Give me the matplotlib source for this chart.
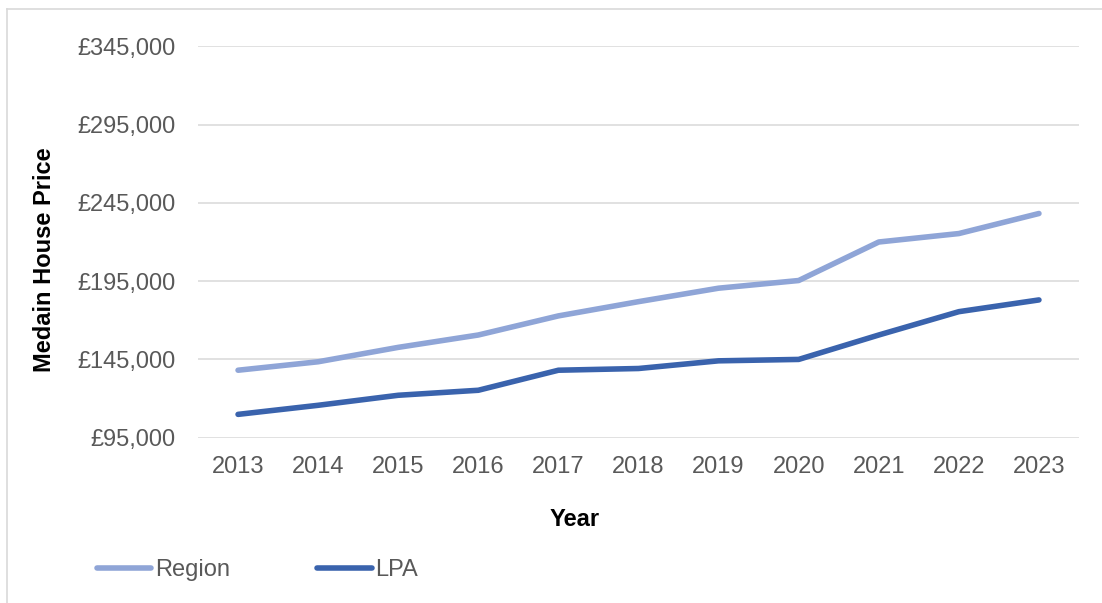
import matplotlib
matplotlib.use("Agg")
import matplotlib.pyplot as plt
from matplotlib.lines import Line2D
from matplotlib.ticker import FuncFormatter

years = ["2013", "2014", "2015", "2016", "2017", "2018", "2019", "2020", "2021", "2022", "2023"]
region = [138100, 143500, 152700, 160600, 172800, 181900, 190500, 195400, 220000, 225400, 238200]
lpa = [109900, 115700, 122100, 125300, 138100, 139200, 144100, 145000, 160600, 175500, 183000]
y_ticks = [95000, 145000, 195000, 245000, 295000, 345000]

plt.rcParams['font.family'] = ['Liberation Sans', 'DejaVu Sans']

W, H = 1102, 603
fig = plt.figure(figsize=(W / 100, H / 100), dpi=100)
ax = fig.add_axes([198 / W, 1 - 437.7 / H, (1079 - 198) / W, (437.7 - 46.3) / H])

x = list(range(len(years)))
c_region = "#8FA5D7"
c_lpa = "#3A63AD"
lw = 4.0
ax.plot(x, region, color=c_region, lw=lw, solid_capstyle='round', solid_joinstyle='round', label="Region", zorder=3)
ax.plot(x, lpa, color=c_lpa, lw=lw, solid_capstyle='round', solid_joinstyle='round', label="LPA", zorder=3)

ax.set_xlim(-0.5, len(years) - 0.5)
ax.set_ylim(y_ticks[0], y_ticks[-1])
ax.set_yticks(y_ticks)
ax.yaxis.set_major_formatter(FuncFormatter(lambda v, p: f"£{int(v):,}"))
ax.set_xticks(x)
ax.set_xticklabels(years)
ax.grid(axis='y', color="#D9D9D9", lw=1.1)
ax.set_axisbelow(True)
for s in ax.spines.values():
    s.set_visible(False)
ax.tick_params(axis='both', length=0, labelsize=17, labelcolor="#595959")
ax.tick_params(axis='y', pad=16)
ax.tick_params(axis='x', pad=13.5)

fig.text(45 / W, 1 - 260 / H, "Medain House Price", rotation=90, fontsize=17, fontweight='bold',
         ha='center', va='center', color='black')
fig.text(575 / W, 1 - 519 / H, "Year", fontsize=17, fontweight='bold', ha='center', va='center', color='black')

handles = [Line2D([0], [0], color=c_region, lw=lw, solid_capstyle='round'),
           Line2D([0], [0], color=c_lpa, lw=lw, solid_capstyle='round')]
leg = fig.legend(handles, ["Region", "LPA"], loc='center left', bbox_to_anchor=(97 / W, 1 - 570 / H),
                 ncol=2, frameon=False, fontsize=17, handlelength=2.3, handletextpad=0.15,
                 columnspacing=3.7, borderpad=0, borderaxespad=0)
for t in leg.get_texts():
    t.set_color("#595959")

# outer chart border (top and left visible)
fig.add_artist(Line2D([7 / W, 7 / W], [0, 1 - 9 / H], color="#D9D9D9", lw=1.2, transform=fig.transFigure))
fig.add_artist(Line2D([7 / W, 1], [1 - 9 / H, 1 - 9 / H], color="#D9D9D9", lw=1.2, transform=fig.transFigure))

fig.savefig("out.png", dpi=100)
